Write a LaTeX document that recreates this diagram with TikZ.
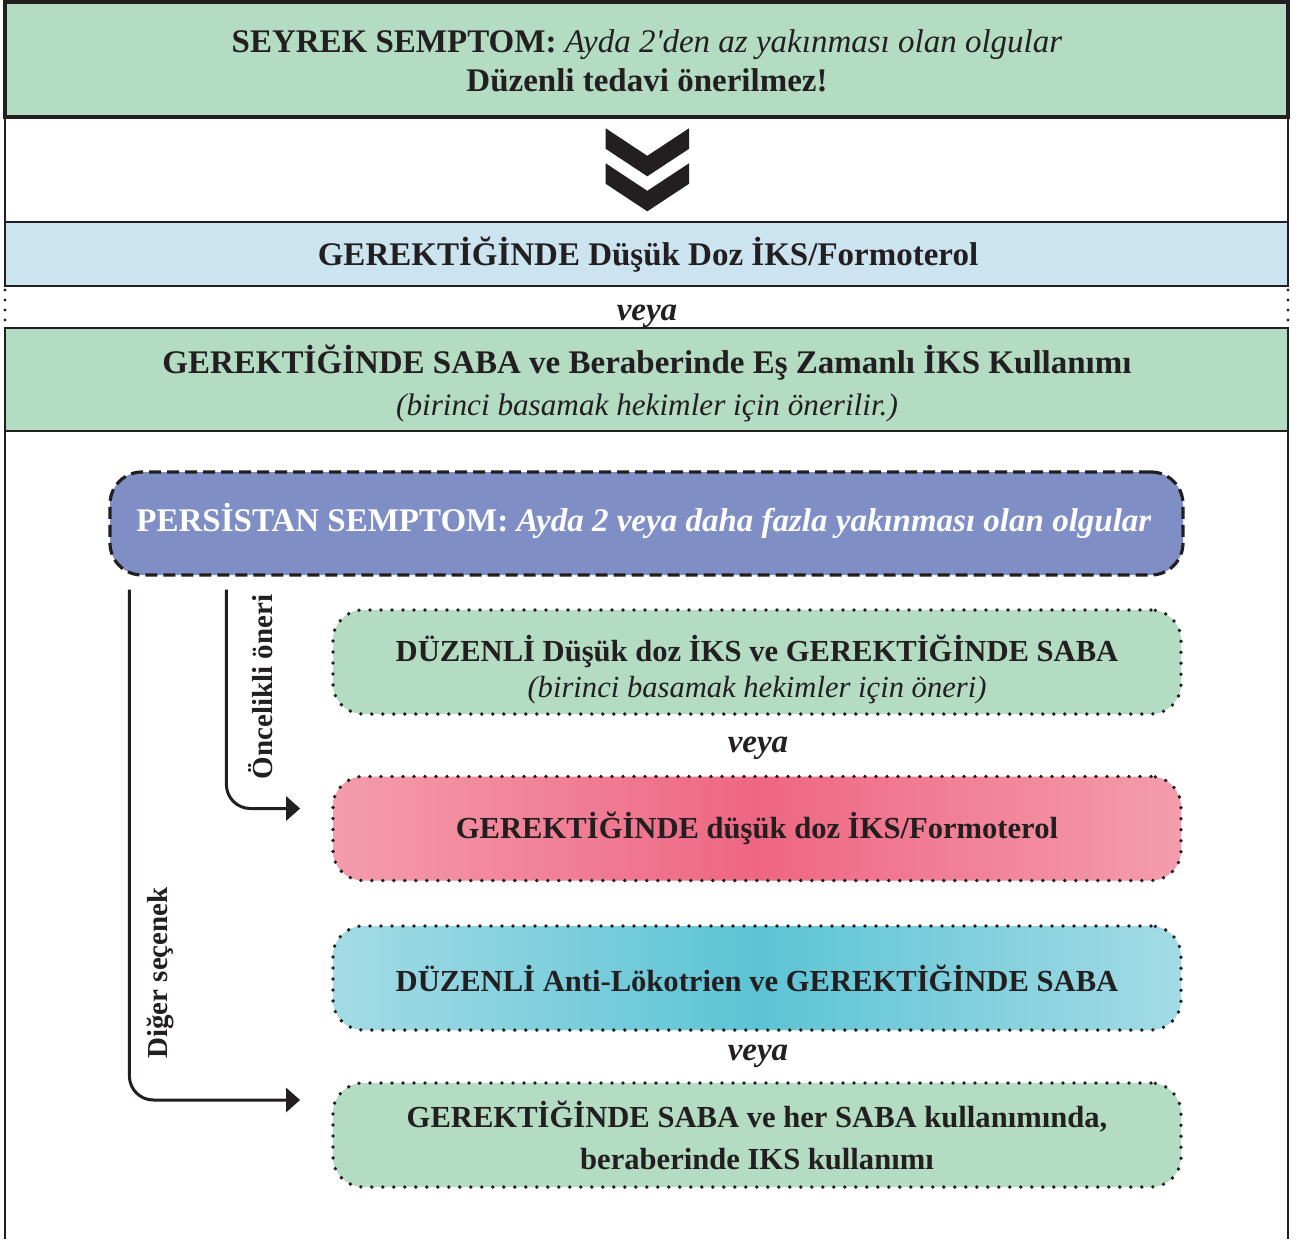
\documentclass[tikz,border=0pt]{standalone}
\usepackage{fontspec}
\setmainfont{Liberation Serif}
\usetikzlibrary{arrows.meta}

\definecolor{ink}{RGB}{35,31,32}
\definecolor{softgreen}{RGB}{179,220,195}
\definecolor{paleblue}{RGB}{204,228,239}
\definecolor{periwinkle}{RGB}{127,143,198}
\definecolor{pinkedge}{RGB}{244,157,172}
\definecolor{pinkmid}{RGB}{238,102,130}
\definecolor{cyanedge}{RGB}{164,219,229}
\definecolor{cyanmid}{RGB}{92,196,213}

\tikzset{every picture/.style={line width=0.75pt}}
\tikzset{
  stripline/.style={draw=ink, line width=1.1pt},
  dotline/.style={draw=ink, line width=1.9pt, line cap=round, dash pattern=on 0pt off 5.5pt},
  headtext/.style={text=ink, align=center, inner sep=0.75pt, font=\fontsize{16.5}{19.5}\selectfont},
  boxtext/.style={text=ink, align=center, font=\fontsize{15.3}{18}\selectfont},
  optionbox/.style={dotline, rounded corners=15pt, minimum width=424pt, minimum height=52pt, boxtext},
  flowarrow/.style={draw=ink, line width=1.5pt, rounded corners=12pt, -{Triangle[length=7pt,width=12pt]}},
  sidelabel/.style={text=ink, rotate=90, inner sep=0.75pt, font=\fontsize{14.5}{17}\selectfont\bfseries}
}

\begin{document}
\begin{tikzpicture}[x=0.5pt,y=0.5pt,yscale=-1,xscale=1]
\path[use as bounding box] (0,0) rectangle (1296,1239);

%Shape: Rectangle [top strip]
\draw [stripline, line width=1.6pt, fill=softgreen] (5,2) rectangle (1288,117) ;
%Straight Lines
\draw [stripline] (5,117) -- (5,222) (1288,117) -- (1288,222) ;
%Shape: Chevrons
\foreach \cy in {128.3,163.3}
  \fill [ink] (605.7,\cy) -- (647.3,\cy+27.5) -- (689,\cy) -- (689,\cy+20.5) -- (647.3,\cy+48) -- (605.7,\cy+20.5) -- cycle ;
%Shape: Rectangle
\draw [stripline, fill=paleblue] (5,222) rectangle (1288,286) ;
%Straight Lines
\draw [dotline, line width=1.6pt, dash pattern=on 0pt off 5pt] (5,290) -- (5,325) (1288,290) -- (1288,325) ;
%Shape: Rectangle
\draw [stripline, fill=softgreen] (5,328) rectangle (1288,431) ;
%Straight Lines
\draw [stripline, line width=1pt] (5,431) -- (5,1239) (1288,431) -- (1288,1239) ;

% Text Node
\node (seyrek) [headtext] at (647,61) {\textbf{SEYREK SEMPTOM:} \textit{Ayda 2\textquotesingle den az yakınması olan olgular}\\ \textbf{Düzenli tedavi önerilmez!}};
% Text Node
\node (formo) [headtext] at (648,255) {\textbf{GEREKTİĞİNDE Düşük Doz İKS/Formoterol}};
% Text Node
\node (veyaA) [headtext] at (647,316) {\textbf{\textit{veya}}};
% Text Node
\node (sabaiks) [headtext, font=\fontsize{16.5}{21}\selectfont] at (647,383) {\textbf{GEREKTİĞİNDE SABA ve Beraberinde Eş Zamanlı İKS Kullanımı}\\ {\fontsize{15.6}{21}\selectfont\textit{(birinci basamak hekimler için önerilir.)}}};

%Shape: Rounded Rectangle [persistan]
\node (pers) [draw=ink, line width=1.6pt, dash pattern=on 6pt off 3pt, rounded corners=16pt, fill=periwinkle, minimum width=536.5pt, minimum height=51.5pt] at (646.5,523.5) {};
% Text Node
\node (persText) [headtext, text=white] at (644,521) {\textbf{PERSİSTAN SEMPTOM:} \textbf{\textit{Ayda 2 veya daha fazla yakınması olan olgular}}};

%Shape: Rounded Rectangles [options]
\node (duzIks) [optionbox, fill=softgreen] at (757,662) {};
\node (gerFormo) [optionbox, left color=pinkedge, right color=pinkedge, middle color=pinkmid] at (757,828.5) {\textbf{GEREKTİĞİNDE düşük doz İKS/Formoterol}};
\node (duzAnti) [optionbox, left color=cyanedge, right color=cyanedge, middle color=cyanmid] at (757,978) {\textbf{DÜZENLİ Anti-Lökotrien ve GEREKTİĞİNDE SABA}};
\node (gerSaba) [optionbox, fill=softgreen, font=\fontsize{15.3}{21}\selectfont] at (757,1135) {\textbf{GEREKTİĞİNDE SABA ve her SABA kullanımında,}\\ \textbf{beraberinde IKS kullanımı}};

% Text Node
\node (duzIksText) [boxtext] at (757,669) {\textbf{DÜZENLİ Düşük doz İKS ve GEREKTİĞİNDE SABA}\\ \textit{(birinci basamak hekimler için öneri)}};
% Text Node
\node (veyaB) [headtext] at (758,748) {\textbf{\textit{veya}}};
% Text Node
\node (veyaC) [headtext] at (758,1056) {\textbf{\textit{veya}}};

%Straight Lines [arrows]
\draw [flowarrow] ([shift={(118,13)}]pers.south west) |- ([shift={(-31,-20)}]gerFormo.west) ;
\draw [flowarrow] ([shift={(21,13)}]pers.south west) |- ([shift={(-31,-35)}]gerSaba.west) ;

% Text Node
\node (oncelik) [sidelabel] at (261,687) {Öncelikli öneri};
% Text Node
\node (diger) [sidelabel] at (160,973) {Diğer seçenek};

\end{tikzpicture}
\end{document}
